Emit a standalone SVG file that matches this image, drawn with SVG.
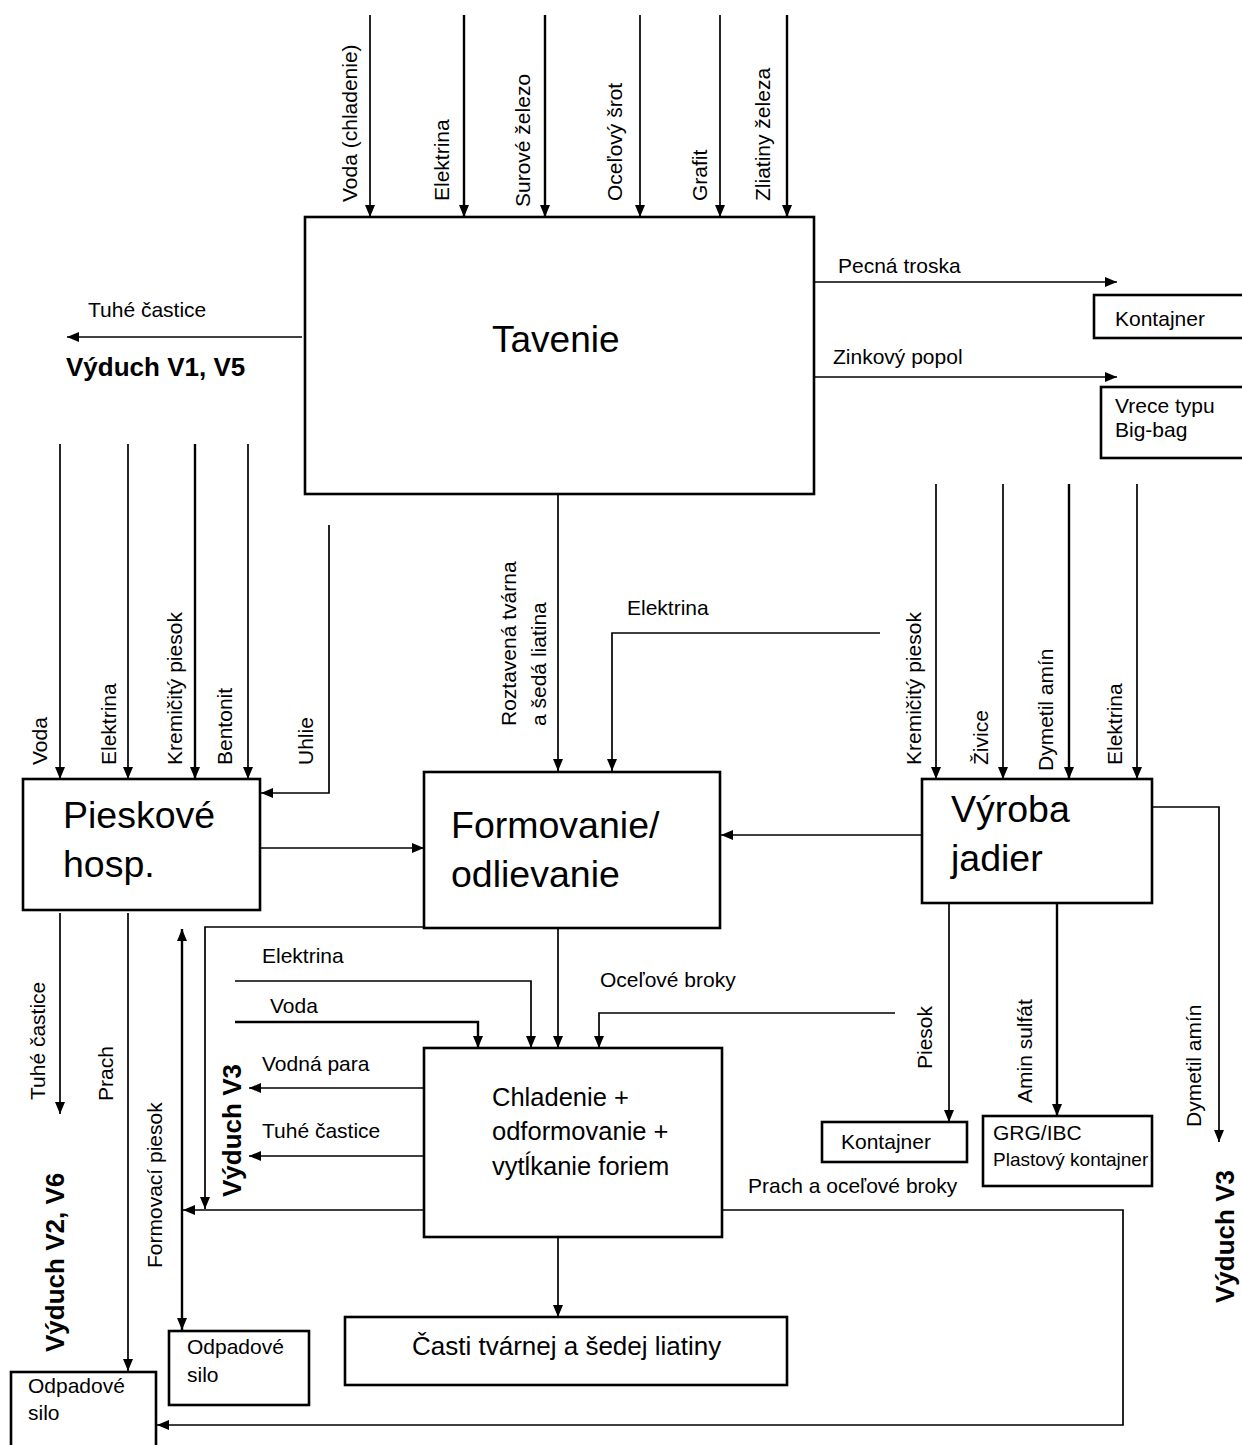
<svg xmlns="http://www.w3.org/2000/svg" width="1242" height="1445" viewBox="0 0 1242 1445">
<defs>
<marker id="ah" markerUnits="userSpaceOnUse" markerWidth="12" markerHeight="10" refX="12" refY="5" orient="auto-start-reverse">
<path d="M0,0 L12,5 L0,10 z" fill="#000"/>
</marker>
<style>
.box{fill:#fff;stroke:#000;stroke-width:2.6}
.ln{fill:none;stroke:#000;stroke-width:1.7}
.lt{fill:none;stroke:#000;stroke-width:2.4}
.ar{marker-end:url(#ah)}
text{font-family:"Liberation Sans",Arial,sans-serif;fill:#000}
.lbl{font-size:21px}
.sm{font-size:21px}
.big{font-size:37.5px}
.mid{font-size:25.5px}
.bold{font-size:26px;font-weight:bold}
</style>
</defs>
<rect width="1242" height="1445" fill="#fff"/>

<g id="connectors">
<path class="ln ar" d="M370,15 V217"/>
<path class="lt ar" d="M464,15 V217"/>
<path class="lt ar" d="M545,15 V217"/>
<path class="ln ar" d="M640,15 V217"/>
<path class="ln ar" d="M720,15 V217"/>
<path class="lt ar" d="M787,15 V217"/>
<path class="ln ar" d="M814,282 H1117"/>
<path class="ln ar" d="M814,377 H1117"/>
<path class="ln ar" d="M302,337 H67"/>
<path class="ln ar" d="M60,444 V779"/>
<path class="ln ar" d="M128,444 V779"/>
<path class="lt ar" d="M195,444 V779"/>
<path class="ln ar" d="M248,444 V779"/>
<path class="ln ar" d="M329,525 V793 H261"/>
<path class="ln ar" d="M558,494 V771"/>
<path class="ln ar" d="M880,633 H612 V771"/>
<path class="ln ar" d="M260,848 H424"/>
<path class="ln ar" d="M936,484 V779"/>
<path class="ln ar" d="M1003,484 V779"/>
<path class="lt ar" d="M1069,484 V779"/>
<path class="ln ar" d="M1137,484 V779"/>
<path class="ln ar" d="M922,835 H721"/>
<path class="ln ar" d="M1152,807 H1219 V1142"/>
<path class="ln ar" d="M949,903 V1122"/>
<path class="lt ar" d="M1057,903 V1116"/>
<path class="ln ar" d="M558,928 V1048"/>
<path class="ln ar" d="M425,927 H205 V1209"/>
<path class="ln ar" d="M235,981 H531 V1048"/>
<path class="lt ar" d="M235,1022 H478 V1048"/>
<path class="ln ar" d="M895,1013 H599 V1048"/>
<path class="ln ar" d="M424,1088 H249"/>
<path class="ln ar" d="M424,1156 H249"/>
<path class="ln ar" d="M424,1210 H183"/>
<path class="lt ar" d="M182,929 V1330" marker-start="url(#ah)"/>
<path class="ln ar" d="M722,1210 H1123 V1425 H157"/>
<path class="ln ar" d="M558,1237 V1317"/>
<path class="ln ar" d="M60,913 V1114"/>
<path class="ln ar" d="M128,913 V1371"/>
</g>

<g id="labels">
<text class="lbl" transform="translate(357,202) rotate(-90)">Voda (chladenie)</text>
<text class="lbl" transform="translate(449,201) rotate(-90)">Elektrina</text>
<text class="lbl" transform="translate(530,207) rotate(-90)">Surové železo</text>
<text class="lbl" transform="translate(622,201) rotate(-90)">Oceľový šrot</text>
<text class="lbl" transform="translate(707,201) rotate(-90)">Grafit</text>
<text class="lbl" transform="translate(770,201) rotate(-90)">Zliatiny železa</text>
<text class="lbl" x="838" y="273">Pecná troska</text>
<text class="lbl" x="833" y="364">Zinkový popol</text>
<text class="lbl" x="88" y="317">Tuhé častice</text>
<text class="bold" x="66" y="376">Výduch V1, V5</text>
<text class="lbl" transform="translate(47,765) rotate(-90)">Voda</text>
<text class="lbl" transform="translate(116,765) rotate(-90)">Elektrina</text>
<text class="lbl" transform="translate(182,765) rotate(-90)">Kremičitý piesok</text>
<text class="lbl" transform="translate(232,765) rotate(-90)">Bentonit</text>
<text class="lbl" transform="translate(313,765) rotate(-90)">Uhlie</text>
<text class="lbl" transform="translate(516,726) rotate(-90)">Roztavená tvárna</text>
<text class="lbl" transform="translate(546,726) rotate(-90)">a šedá liatina</text>
<text class="lbl" x="627" y="615">Elektrina</text>
<text class="lbl" transform="translate(921,765) rotate(-90)">Kremičitý piesok</text>
<text class="lbl" transform="translate(988,765) rotate(-90)">Živice</text>
<text class="lbl" transform="translate(1053,771) rotate(-90)">Dymetil amín</text>
<text class="lbl" transform="translate(1122,765) rotate(-90)">Elektrina</text>
<text class="lbl" transform="translate(45,1100) rotate(-90)">Tuhé častice</text>
<text class="lbl" transform="translate(113,1101) rotate(-90)">Prach</text>
<text class="bold" transform="translate(64,1352) rotate(-90)">Výduch V2, V6</text>
<text class="lbl" transform="translate(162,1268) rotate(-90)">Formovací piesok</text>
<text class="bold" transform="translate(241,1197) rotate(-90)">Výduch V3</text>
<text class="lbl" x="262" y="963">Elektrina</text>
<text class="lbl" x="270" y="1013">Voda</text>
<text class="lbl" x="600" y="987">Oceľové broky</text>
<text class="lbl" x="262" y="1071">Vodná para</text>
<text class="lbl" x="262" y="1138">Tuhé častice</text>
<text class="lbl" x="748" y="1193">Prach a oceľové broky</text>
<text class="lbl" transform="translate(932,1069) rotate(-90)">Piesok</text>
<text class="lbl" transform="translate(1032,1103) rotate(-90)">Amin sulfát</text>
<text class="lbl" transform="translate(1201,1127) rotate(-90)">Dymetil amín</text>
<text class="bold" transform="translate(1234,1303) rotate(-90)">Výduch V3</text>
</g>

<g id="tavenie">
<rect class="box" x="305" y="217" width="509" height="277"/>
<text class="big" x="492" y="352" style="font-size:37px">Tavenie</text>
</g>
<g id="kontajner-top">
<rect class="box" x="1094" y="295" width="160" height="43"/>
<text class="sm" x="1115" y="326">Kontajner</text>
</g>
<g id="vrece">
<rect class="box" x="1101" y="387" width="150" height="71"/>
<text class="sm" x="1115" y="413">Vrece typu</text>
<text class="sm" x="1115" y="437">Big-bag</text>
</g>
<g id="pieskove">
<rect class="box" x="23" y="779" width="237" height="131"/>
<text class="big" x="63" y="828">Pieskové</text>
<text class="big" x="63" y="877">hosp.</text>
</g>
<g id="formovanie">
<rect class="box" x="424" y="772" width="296" height="156"/>
<text class="big" x="451" y="838">Formovanie/</text>
<text class="big" x="451" y="887">odlievanie</text>
</g>
<g id="vyroba">
<rect class="box" x="922" y="779" width="230" height="124"/>
<text class="big" x="951" y="822">Výroba</text>
<text class="big" x="951" y="871">jadier</text>
</g>
<g id="kontajner-mid">
<rect class="box" x="822" y="1122" width="145" height="40"/>
<text class="sm" x="841" y="1149">Kontajner</text>
</g>
<g id="grg">
<rect class="box" x="983" y="1116" width="169" height="70"/>
<text class="sm" x="993" y="1140">GRG/IBC</text>
<text x="993" y="1166" style="font-size:19px">Plastový kontajner</text>
</g>
<g id="chladenie">
<rect class="box" x="424" y="1048" width="298" height="189"/>
<text class="mid" x="492" y="1106">Chladenie +</text>
<text class="mid" x="492" y="1140">odformovanie +</text>
<text class="mid" x="492" y="1175">vytĺkanie foriem</text>
</g>
<g id="casti">
<rect class="box" x="345" y="1317" width="442" height="68"/>
<text class="mid" x="412" y="1355" style="font-size:26px">Časti tvárnej a šedej liatiny</text>
</g>
<g id="silo-mid">
<rect class="box" x="169" y="1331" width="140" height="74"/>
<text class="sm" x="187" y="1354">Odpadové</text>
<text class="sm" x="187" y="1382">silo</text>
</g>
<g id="silo-left">
<rect class="box" x="11" y="1372" width="145" height="85"/>
<text class="sm" x="28" y="1393">Odpadové</text>
<text class="sm" x="28" y="1420">silo</text>
</g>
</svg>
